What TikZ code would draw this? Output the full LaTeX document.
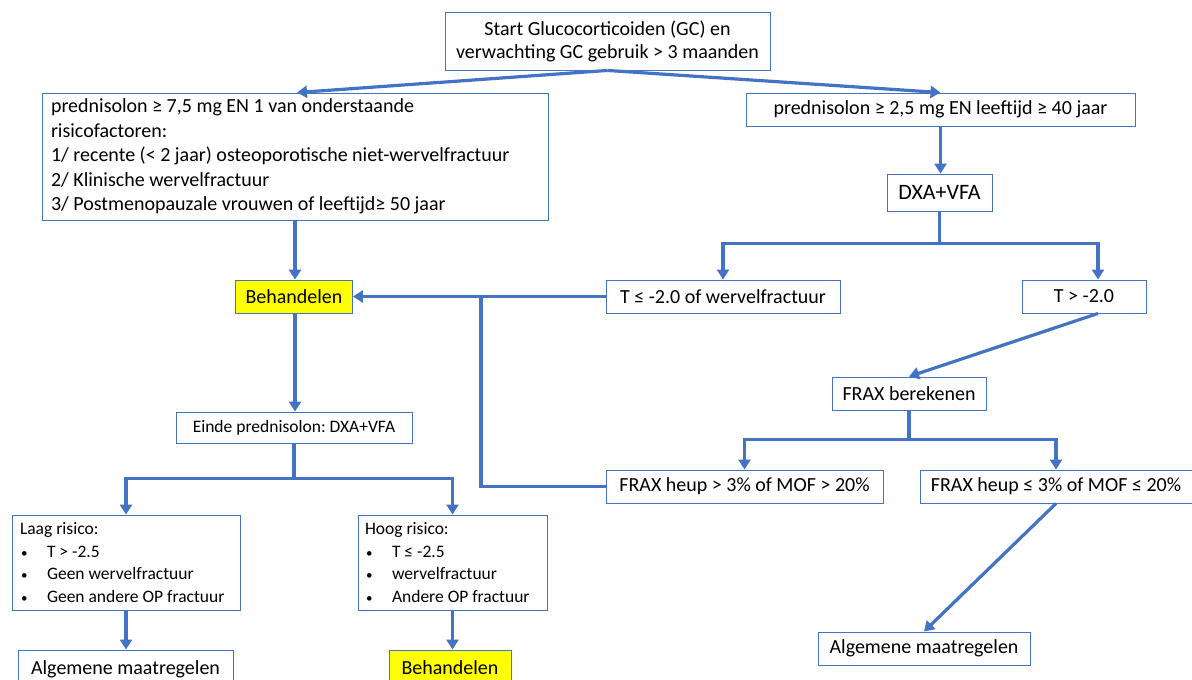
\documentclass[tikz,border=0pt]{standalone}
\usepackage{fontspec}
\setmainfont{Carlito}
\usetikzlibrary{arrows.meta}
\definecolor{obl}{HTML}{4472C4}
\definecolor{ybox}{HTML}{FFFF00}
\frenchspacing
\newcommand{\blt}{\makebox[27pt][l]{\hspace{1pt}\fontsize{13}{13}\selectfont •}}
\begin{document}
\begin{tikzpicture}[x=1pt,y=-1pt,
  bx/.style={draw=obl, line width=0.9pt, fill=white, inner sep=0pt, align=center, font=\fontsize{20}{23}\selectfont},
  sbx/.style={bx, font=\fontsize{17.5}{22.7}\selectfont},
  ybx/.style={bx, fill=ybox},
  ln/.style={draw=obl, line width=3.2pt},
  ar/.style={ln, -{Triangle[width=12pt,length=10pt]}},
]
\useasboundingbox (0,0) rectangle (1192,680);
\clip (0,0) rectangle (1192,680);

% nodes
\node[bx, minimum width=325pt, minimum height=58pt] (top) at (607.5,41)
  {Start Glucocorticoiden (GC) en\\verwachting GC gebruik > 3 maanden};
\node[bx, minimum width=506pt, minimum height=127pt, text width=488pt, align=flush left,
  font=\fontsize{20}{24.5}\selectfont] (lb) at (295,156.5)
  {prednisolon ≥ 7,5 mg EN 1 van onderstaande\\
   risicofactoren:\\
   1/ recente (< 2 jaar) osteoporotische niet-wervelfractuur\\
   2/ Klinische wervelfractuur\\
   3/ Postmenopauzale vrouwen of leeftijd≥ 50 jaar};
\node[bx, minimum width=389pt, minimum height=33pt] (rb) at (940.5,109.5)
  {prednisolon ≥ 2,5 mg EN leeftijd ≥ 40 jaar};
\node[bx, minimum width=105pt, minimum height=37pt, font=\fontsize{22}{24}\selectfont] (dxa) at (939.5,192.5) {DXA+VFA};
\node[bx, minimum width=234pt, minimum height=33pt] (tle) at (723,296.5) {T ≤ -2.0 of wervelfractuur};
\node[bx, minimum width=124pt, minimum height=33pt] (tgt) at (1084,296.5) {T > -2.0};
\node[ybx, minimum width=117pt, minimum height=33pt] (beh1) at (294,296.5) {Behandelen};
\node[sbx, minimum width=236pt, minimum height=31pt] (einde) at (294,427.5) {Einde prednisolon: DXA+VFA};
\node[sbx, minimum width=228pt, minimum height=95pt, text width=212pt, align=flush left] (laag) at (126,562.5)
  {Laag risico:\\
   \blt T > -2.5\\
   \blt Geen wervelfractuur\\
   \blt Geen andere OP fractuur};
\node[sbx, minimum width=189pt, minimum height=95pt, text width=175pt, align=flush left] (hoog) at (452.5,562.5)
  {Hoog risico:\\
   \blt T ≤ -2.5\\
   \blt wervelfractuur\\
   \blt Andere OP fractuur};
\node[bx, minimum width=215pt, minimum height=40pt] (alg1) at (125.5,670) {\raisebox{5pt}{Algemene maatregelen}};
\node[ybx, minimum width=122pt, minimum height=40pt] (beh2) at (450,670) {\raisebox{5pt}{Behandelen}};
\node[bx, minimum width=154pt, minimum height=33pt] (fb) at (909,393.5) {FRAX berekenen};
\node[bx, minimum width=277pt, minimum height=33pt] (fgt) at (744.5,486.5) {FRAX heup > 3\% of MOF > 20\%};
\node[bx, minimum width=272pt, minimum height=33pt] (fle) at (1056,486.5) {FRAX heup ≤ 3\% of MOF ≤ 20\%};
\node[bx, minimum width=212pt, minimum height=33pt] (alg2) at (924,648.5) {Algemene maatregelen};

% connectors
\draw[ar] (top.south) -- ([xshift=2pt]lb.north);
\draw[ar] (top.south) -- (rb.north);
\draw[ar] (rb.south) -- (rb.south |- dxa.north);
\draw[ln] (dxa.south) -- ++(0,32) coordinate (dj);
\draw[ar] (dj) -| (tle.north);
\draw[ar] (dj) -| ([xshift=14pt]tgt.north);
\draw[ar] (tle.west) -- (beh1.east);
\draw[ar] (lb.south) -- (lb.south |- beh1.north);
\draw[ar] (beh1.south -| lb.south) -- (lb.south |- einde.north);
\draw[ln] (einde.south) -- ++(0,35) coordinate (ej);
\draw[ar] (ej) -| (laag.north);
\draw[ar] (ej) -| (hoog.north);
\draw[ar] (laag.south) -- (laag.south |- alg1.north);
\draw[ar] (hoog.south) -- (hoog.south |- beh2.north);
\coordinate (jn) at (481,296.5);
\draw[ln] (fgt.west) -| (jn);
\draw[ar] ([xshift=14pt]tgt.south) -- (fb.north);
\draw[ln] (fb.south) -- ++(0,29) coordinate (fj);
\draw[ar] (fj) -| (fgt.north);
\draw[ar] (fj) -| (fle.north);
\draw[ar] (fle.south) -- (alg2.north);
\end{tikzpicture}
\end{document}
